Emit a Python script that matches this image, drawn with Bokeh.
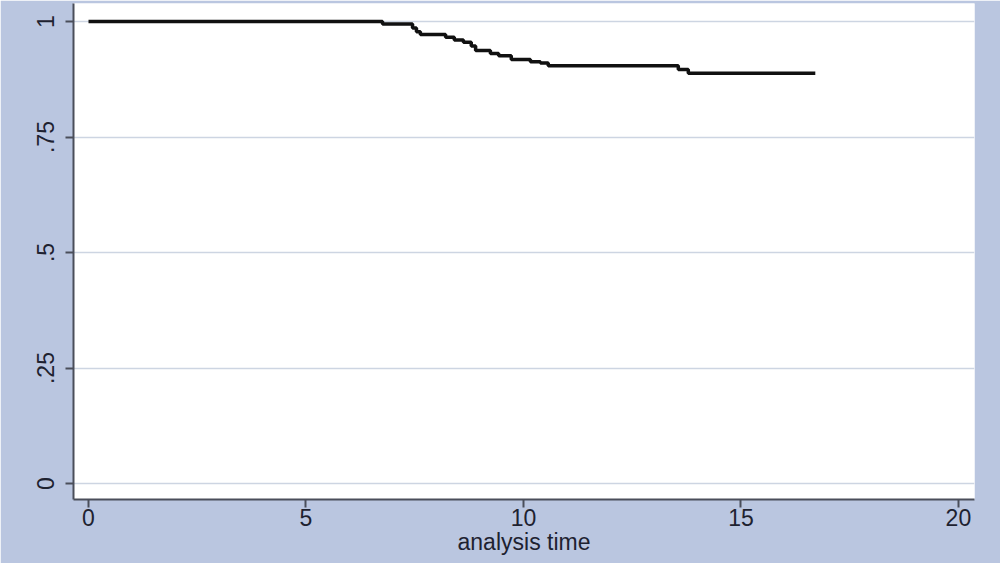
from bokeh.plotting import figure
from bokeh.models import FixedTicker, Range1d
from bokeh.embed import file_html
from bokeh.resources import INLINE

# Kaplan-Meier estimate
times = [0.0, 6.76, 7.45, 7.54, 7.63, 8.21, 8.41, 8.62, 8.80, 8.90, 9.24, 9.43,
         9.72, 10.16, 10.39, 10.57, 13.56, 13.79, 16.71]
surv = [1.0, 0.9946, 0.986, 0.978, 0.972, 0.966, 0.960, 0.955, 0.947, 0.937, 0.931,
        0.926, 0.918, 0.913, 0.910, 0.904, 0.896, 0.888, 0.888]

x_ticks = [0, 5, 10, 15, 20]
y_ticks = [0, 0.25, 0.5, 0.75, 1]
y_tick_labels = ["0", ".25", ".5", ".75", "1"]
x_label = "analysis time"

BG = "#BAC6E0"
TXT = "#1E2230"

p = figure(width=1000, height=563, output_backend="svg", toolbar_location=None,
           x_range=Range1d(-0.345, 20.37), y_range=Range1d(-0.0346, 1.039),
           min_border_left=73, min_border_right=26, min_border_top=3,
           min_border_bottom=64)

p.background_fill_color = "white"
p.border_fill_color = BG
p.outline_line_color = None

p.step(x=times, y=surv, mode="after", line_color="#111111", line_width=3.5)

font = "Liberation Sans"
p.xaxis.ticker = FixedTicker(ticks=x_ticks)
p.yaxis.ticker = FixedTicker(ticks=y_ticks)
p.yaxis.major_label_overrides = {t: l for t, l in zip(y_ticks, y_tick_labels)}
p.yaxis.major_label_orientation = "vertical"
p.xaxis.axis_label = x_label

for ax in (p.xaxis, p.yaxis):
    ax.axis_line_color = "#4A4E5A"
    ax.axis_line_width = 2
    ax.major_tick_line_color = "#4A4E5A"
    ax.major_tick_line_width = 2
    ax.major_tick_out = 8
    ax.major_tick_in = 0
    ax.minor_tick_line_color = None
    ax.major_label_text_font = font
    ax.major_label_text_font_size = "23px"
    ax.major_label_text_color = TXT
    ax.axis_label_text_font = font
    ax.axis_label_text_font_size = "23px"
    ax.axis_label_text_font_style = "normal"
    ax.axis_label_text_color = TXT

p.xaxis.major_label_standoff = 1
p.xaxis.axis_label_standoff = 0
p.yaxis.major_label_standoff = 11

p.xgrid.grid_line_color = None
p.ygrid.grid_line_color = "#CDD5E2"
p.ygrid.grid_line_width = 1.5

open("out.html", "w").write(file_html(p, INLINE))
